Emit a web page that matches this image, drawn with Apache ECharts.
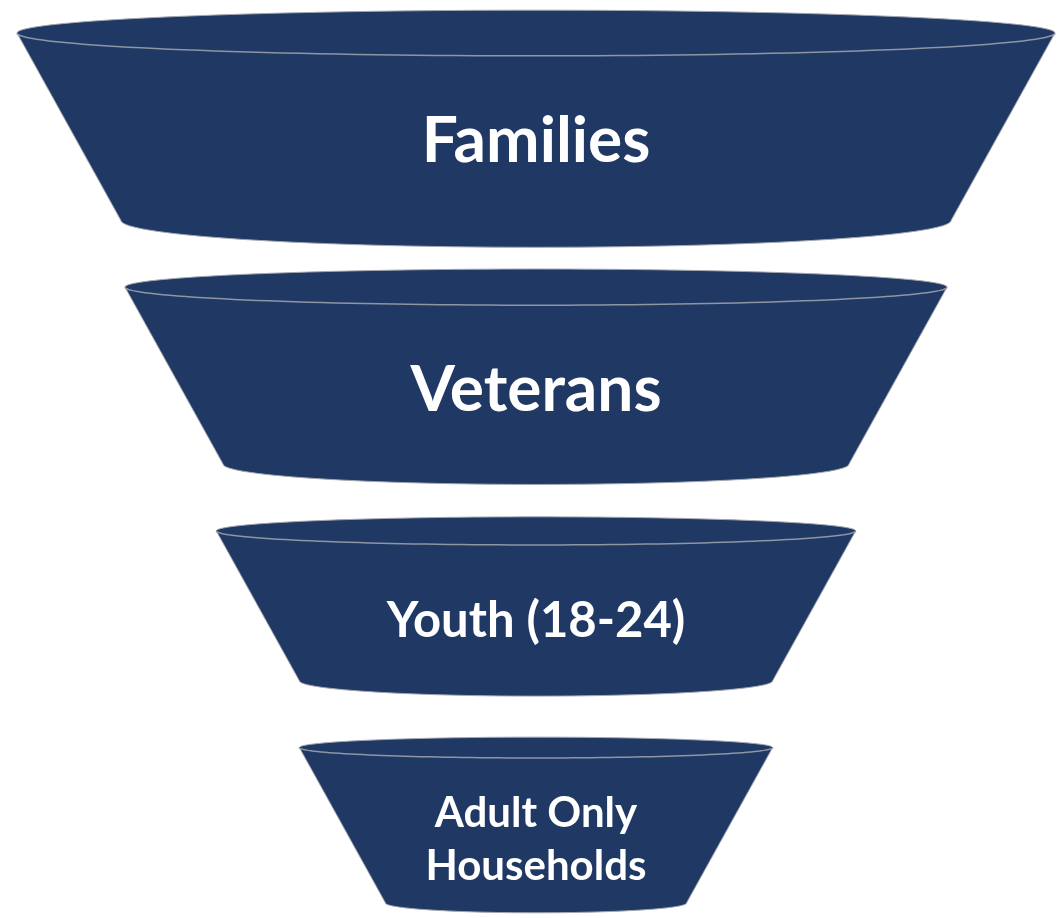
<!DOCTYPE html>
<html lang="en">

<head>
    <meta charset="UTF-8">
    <meta name="viewport" content="width=device-width, initial-scale=1.0">
    <title>Funnel</title>
    <script src="https://cdn.jsdelivr.net/npm/echarts@6.0.0/dist/echarts.min.js"></script>
    <style>
        html, body { margin: 0; padding: 0; background: #fff; }
    </style>
</head>

<body>
    <div id="main" style="width: 1057px;height:918px;"></div>
    <script type="text/javascript">
        // funnel stages, top to bottom
        const stages = ['Families', 'Veterans', 'Youth (18-24)', 'Adult Only\nHouseholds']
        // rim widths of each stage, % of the widest rim
        const topWidths = [100, 79.2, 61.6, 45.6]
        const bottomWidths = [80.0, 60.3, 45.6, 29.0]

        // side walls run 0.553 across per unit down, stages separated by a fixed gap
        const slope = 0.553
        const gap = 6.45
        const tops = []
        const bottoms = []
        let depth = 0
        for (let i = 0; i < stages.length; i++) {
            tops.push(depth)
            depth += (topWidths[i] - bottomWidths[i]) / 2 / slope
            bottoms.push(depth)
            depth += gap
        }
        const totalDepth = depth - gap

        const fontSizes = [64, 64, 49, 42]

        // half ellipse from left point to right point, bulging down (dir 1) or up (dir -1)
        function arc(cx, cy, rx, ry, dir, n) {
            const pts = []
            for (let k = 0; k <= n; k++) {
                const t = Math.PI - Math.PI * k / n
                pts.push([cx + rx * Math.cos(t), cy + dir * ry * Math.sin(t)])
            }
            return pts
        }

        function renderItem(params, api) {
            const tw = api.value(0), bw = api.value(1), ty = api.value(2), by = api.value(3)
            const tl = api.coord([-tw / 2, ty])
            const tr = api.coord([tw / 2, ty])
            const bl = api.coord([-bw / 2, by])
            const br = api.coord([bw / 2, by])
            const topRx = (tr[0] - tl[0]) / 2
            const topRy = topRx * 0.044
            const botRx = (br[0] - bl[0]) / 2
            const botRy = botRx * 0.065
            const topCx = (tl[0] + tr[0]) / 2
            const botCx = (bl[0] + br[0]) / 2

            // body: left wall, curved bottom, right wall, back of the top rim
            const bottomArc = arc(botCx, bl[1], botRx, botRy, 1, 60)
            const backArc = arc(topCx, tl[1], topRx, topRy, -1, 80).reverse()
            const body = [tl].concat(bottomArc, backArc)
            const frontRim = arc(topCx, tl[1], topRx, topRy, 1, 80)

            const idx = params.dataIndex
            return {
                type: 'group',
                children: [
                    {
                        type: 'polygon',
                        shape: { points: body },
                        style: { fill: '#1f3864', stroke: '#a3a7ae', lineWidth: 1 }
                    },
                    {
                        type: 'polyline',
                        shape: { points: frontRim },
                        style: { fill: null, stroke: '#8e95a3', lineWidth: 1.5 }
                    },
                    {
                        type: 'text',
                        x: topCx,
                        y: (tl[1] + bl[1]) / 2 + 15,
                        style: {
                            text: stages[idx],
                            fill: '#ffffff',
                            font: 'bold ' + fontSizes[idx] + 'px Lato',
                            lineHeight: 53,
                            align: 'center',
                            verticalAlign: 'middle'
                        }
                    }
                ]
            }
        }

        let options = {
            animation: false,
            grid: { left: 17, right: 2, top: 33, bottom: 15 },
            xAxis: { type: 'value', min: -50, max: 50, show: false },
            yAxis: { type: 'value', inverse: true, min: 0, max: totalDepth, show: false },
            series: [{
                type: 'custom',
                renderItem: renderItem,
                encode: { x: [0, 1], y: [2, 3] },
                data: stages.map((name, i) => ({
                    name: name,
                    value: [topWidths[i], bottomWidths[i], tops[i], bottoms[i]]
                }))
            }]
        }

        let myChart = echarts.init(document.getElementById('main'))
        myChart.setOption(options)
    </script>
</body>

</html>
